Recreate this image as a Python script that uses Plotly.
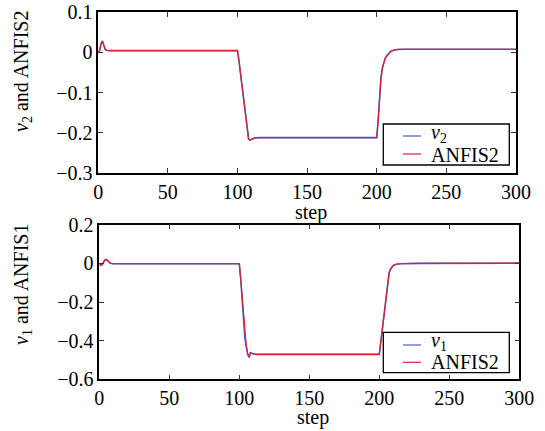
import plotly.graph_objects as go

# ---- data -------------------------------------------------------------
step_top = [0, 1, 2, 3, 4, 5, 6, 8, 15, 50, 99, 100, 101, 102, 103, 104, 105,
            106, 107, 108, 109, 110, 112, 116, 150, 199, 200, 201, 202, 203,
            204, 205, 206, 207, 208, 209, 210, 212, 215, 220, 300]
v2 = [0.001, 0.004, 0.020, 0.028, 0.018, 0.008, 0.005, 0.004, 0.004, 0.004,
      0.004, 0.004, -0.020, -0.050, -0.080, -0.110, -0.140, -0.170, -0.200,
      -0.216, -0.218, -0.216, -0.213, -0.212, -0.212, -0.212, -0.212, -0.170,
      -0.110, -0.065, -0.040, -0.025, -0.016, -0.010, -0.005, -0.001, 0.002,
      0.005, 0.007, 0.0075, 0.0075]
anfis2 = [0.001, 0.004, 0.021, 0.028, 0.017, 0.008, 0.005, 0.004, 0.004, 0.004,
          0.004, 0.004, -0.018, -0.048, -0.079, -0.109, -0.139, -0.169, -0.199,
          -0.216, -0.218, -0.216, -0.213, -0.212, -0.212, -0.212, -0.212, -0.172,
          -0.112, -0.066, -0.040, -0.025, -0.016, -0.010, -0.005, -0.001, 0.002,
          0.005, 0.007, 0.0075, 0.0075]

step_bot = [0, 1, 2, 3, 4, 5, 6, 7, 8, 10, 20, 99, 100, 101, 102, 103, 104,
            105, 106, 107, 108, 109, 110, 113, 150, 199, 200, 201, 202, 203,
            204, 205, 206, 207, 208, 209, 210, 212, 215, 220, 230, 300]
v1 = [0.000, -0.010, -0.008, 0.008, 0.018, 0.020, 0.012, 0.004, 0.000, -0.002,
      -0.002, -0.002, -0.002, -0.080, -0.170, -0.280, -0.390, -0.430, -0.470,
      -0.486, -0.462, -0.465, -0.469, -0.471, -0.471, -0.471, -0.471, -0.410,
      -0.350, -0.290, -0.220, -0.150, -0.090, -0.050, -0.030, -0.018, -0.011,
      -0.005, -0.002, -0.001, 0.000, 0.001]
anfis1 = [0.000, -0.009, -0.007, 0.008, 0.018, 0.020, 0.012, 0.004, 0.000, -0.002,
          -0.002, -0.002, -0.002, -0.078, -0.168, -0.279, -0.388, -0.430, -0.469,
          -0.486, -0.463, -0.465, -0.469, -0.471, -0.471, -0.471, -0.471, -0.412,
          -0.352, -0.291, -0.221, -0.151, -0.091, -0.051, -0.030, -0.018, -0.011,
          -0.005, -0.002, -0.001, 0.000, 0.001]

x_ticks = [0, 50, 100, 150, 200, 250, 300]
y_ticks_top = [0.1, 0, -0.1, -0.2, -0.3]
y_ticks_bot = [0.2, 0, -0.2, -0.4, -0.6]

legend_top = ["<i>v</i><sub>2</sub>", "ANFIS2"]
legend_bot = ["<i>v</i><sub>1</sub>", "ANFIS2"]

# ---- styling ----------------------------------------------------------
W, H = 545, 431
FONT = "Times New Roman, Liberation Serif, serif"
FS = 20
BLUE = "#4a5ccc"
RED = "#dc2038"


def px_x(p):
    return p / W


def px_y(p):
    return (H - p) / H


fig = go.Figure()

fig.add_trace(go.Scatter(x=step_top, y=v2, mode="lines", name=legend_top[0],
                         line=dict(color=BLUE, width=1.6), xaxis="x", yaxis="y"))
fig.add_trace(go.Scatter(x=step_top, y=anfis2, mode="lines", name=legend_top[1],
                         line=dict(color=RED, width=1.2), xaxis="x", yaxis="y"))
fig.add_trace(go.Scatter(x=step_bot, y=v1, mode="lines", name=legend_bot[0],
                         line=dict(color=BLUE, width=1.6), xaxis="x2", yaxis="y2"))
fig.add_trace(go.Scatter(x=step_bot, y=anfis1, mode="lines", name=legend_bot[1],
                         line=dict(color=RED, width=1.2), xaxis="x2", yaxis="y2"))

axis_common = dict(showline=True, linecolor="black", linewidth=1.5, mirror="ticks",
                   ticks="inside", ticklen=5, tickwidth=1, tickcolor="#333",
                   showgrid=False, zeroline=False, automargin=False,
                   tickfont=dict(family=FONT, size=FS, color="black"))

fig.update_layout(
    width=W, height=H,
    margin=dict(l=0, r=0, t=0, b=0, autoexpand=False),
    paper_bgcolor="white", plot_bgcolor="white",
    showlegend=False,
    xaxis=dict(domain=[px_x(98.2), px_x(516)], range=[0, 300], tickvals=x_ticks,
               anchor="y", **axis_common),
    yaxis=dict(domain=[px_y(173), px_y(12)], range=[-0.3, 0.1], tickvals=y_ticks_top,
               anchor="x", **axis_common),
    xaxis2=dict(domain=[px_x(99.3), px_x(519.3)], range=[0, 300], tickvals=x_ticks,
                anchor="y2", **axis_common),
    yaxis2=dict(domain=[px_y(379.3), px_y(224.7)], range=[-0.6, 0.2], tickvals=y_ticks_bot,
                anchor="x2", **axis_common),
)

text_font = dict(family=FONT, size=FS, color="black")


def label(text, x, y, angle=0, xanchor="center"):
    fig.add_annotation(text=text, x=px_x(x), y=px_y(y), xref="paper", yref="paper",
                       showarrow=False, textangle=angle, xanchor=xanchor,
                       yanchor="middle", font=text_font)


# axis titles
label("step", 311, 212)
label("step", 313, 417)
label("<i>v</i><sub>2</sub> and ANFIS2", 22, 72, angle=-90)
label("<i>v</i><sub>1</sub> and ANFIS1", 22, 285, angle=-90)


# legend boxes: frame, line samples and entry texts
def legend_box(y0, y1, rows, names):
    fig.add_shape(type="rect", xref="paper", yref="paper",
                  x0=px_x(383.3), x1=px_x(509.3), y0=px_y(y0), y1=px_y(y1),
                  line=dict(color="black", width=1.3), fillcolor="white", layer="above")
    for (ly, ty), name, col in zip(rows, names, [BLUE, RED]):
        fig.add_shape(type="line", xref="paper", yref="paper",
                      x0=px_x(403), x1=px_x(421), y0=px_y(ly), y1=px_y(ly),
                      line=dict(color=col, width=1.2), layer="above")
        label(name, 429, ty, xanchor="left")


legend_box(124, 165, [(136, 133), (154, 155)], legend_top)
legend_box(332.3, 372.7, [(345, 341), (362.3, 362)], legend_bot)

fig.write_html("out.html")
